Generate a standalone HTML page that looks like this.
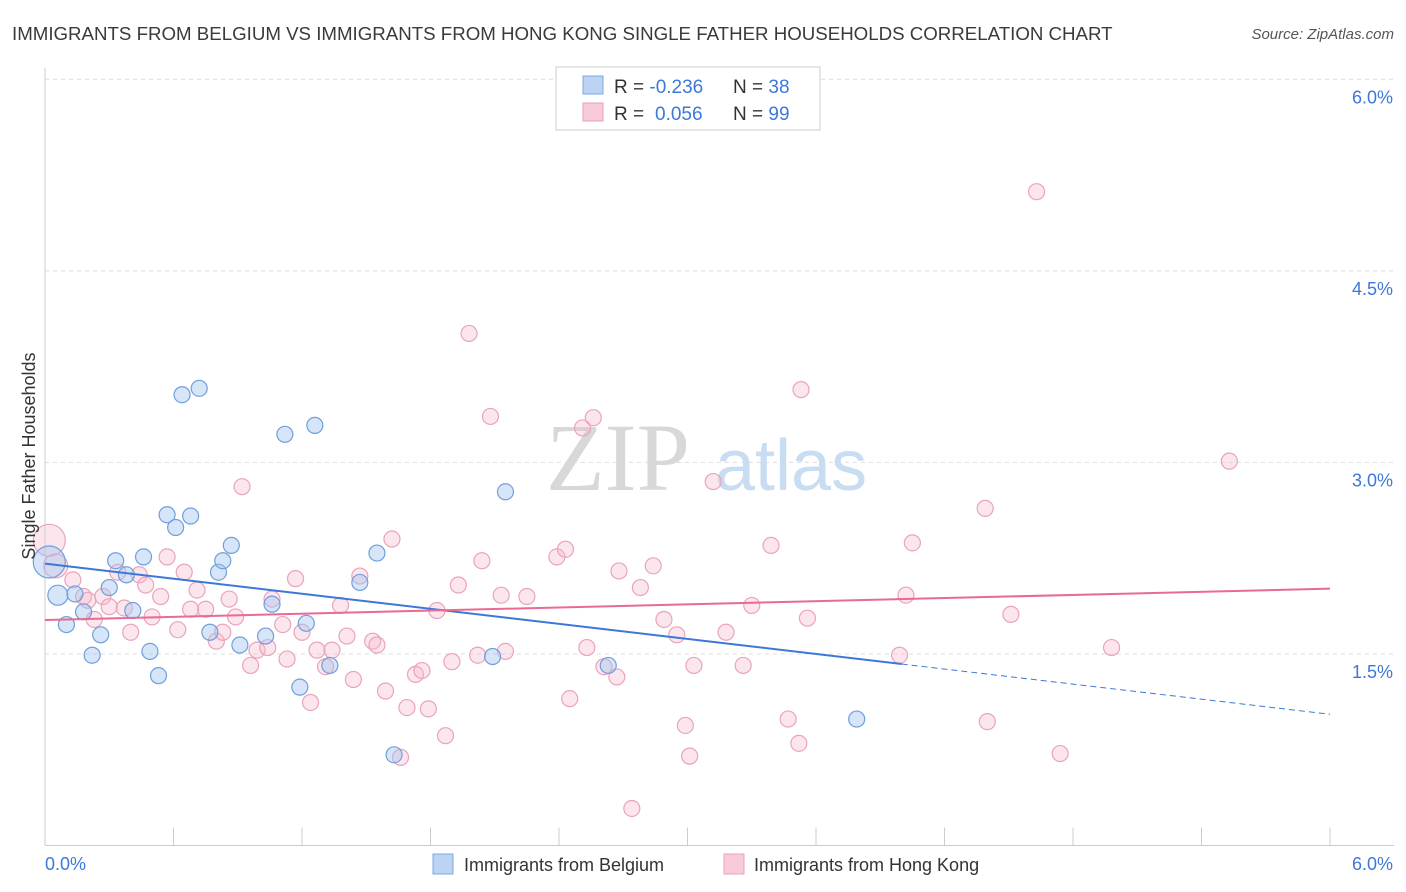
<!DOCTYPE html>
<html><head><meta charset="utf-8">
<style>
body{margin:0;background:#fff;font-family:"Liberation Sans",sans-serif;}
svg{display:block}
</style></head>
<body>
<svg id="chart" width="1406" height="892" xmlns="http://www.w3.org/2000/svg">
<text x="12" y="40" font-size="18.7" fill="#3a3a3a">IMMIGRANTS FROM BELGIUM VS IMMIGRANTS FROM HONG KONG SINGLE FATHER HOUSEHOLDS CORRELATION CHART</text>
<text x="1394" y="39" font-size="15" fill="#555" text-anchor="end" font-style="italic">Source: ZipAtlas.com</text>
<g id="grid"></g>
<g id="axes"></g>
<text x="690" y="490" font-size="96" fill="#d8d8d8" text-anchor="end" font-family="Liberation Serif,serif">ZIP</text>
<text x="715" y="490" font-size="72" fill="#c8dcf2">atlas</text>
<g id="marks"></g>
<text x="35" y="456" font-size="18" fill="#333" text-anchor="middle" transform="rotate(-90 35 456)">Single Father Households</text>
<g>
<rect x="556" y="67" width="264" height="63" fill="#fff" stroke="#ccc"/>
<rect x="583" y="76" width="20" height="18" fill="#bcd3f3" stroke="#7aa8e0"/>
<rect x="583" y="103" width="20" height="18" fill="#f8cbd9" stroke="#e8a0b8"/>
<text x="614" y="93" font-size="19" fill="#333">R = <tspan fill="#3c78d8">-0.236</tspan><tspan x="733">N = </tspan><tspan fill="#3c78d8">38</tspan></text>
<text x="614" y="120" font-size="19" fill="#333">R = <tspan fill="#3c78d8" x="655">0.056</tspan><tspan x="733">N = </tspan><tspan fill="#3c78d8">99</tspan></text>
</g>
<g>
<rect x="433" y="854" width="20" height="20" fill="#bcd3f3" stroke="#7aa8e0"/>
<text x="464" y="871" font-size="18" fill="#333">Immigrants from Belgium</text>
<rect x="724" y="854" width="20" height="20" fill="#f8cbd9" stroke="#e8a0b8"/>
<text x="754" y="871" font-size="18" fill="#333">Immigrants from Hong Kong</text>
</g>
</svg>
<script>
const xTicks=[0,0.6,1.2,1.8,2.4,3.0,3.6,4.2,4.8,5.4,6.0];
const yTicks=[1.5,3.0,4.5,6.0];
const yTickLabels=["1.5%","3.0%","4.5%","6.0%"];
const xLabels=["0.0%","6.0%"];
const belgiumX=[0.02,0.06,0.10,0.14,0.18,0.22,0.26,0.30,0.33,0.38,0.41,0.46,0.49,0.53,0.57,0.61,0.64,0.68,0.72,0.77,0.81,0.83,0.87,0.91,1.03,1.06,1.12,1.19,1.22,1.26,1.33,1.47,1.55,1.63,2.09,2.15,2.63,3.79];
const belgiumY=[2.22,1.96,1.73,1.97,1.83,1.49,1.65,2.02,2.23,2.12,1.84,2.26,1.52,1.33,2.59,2.49,3.53,2.58,3.58,1.67,2.14,2.23,2.35,1.57,1.64,1.89,3.22,1.24,1.74,3.29,1.41,2.06,2.29,0.71,1.48,2.77,1.41,0.99];
const hkX=[0.02,0.05,0.13,0.18,0.20,0.23,0.27,0.30,0.34,0.37,0.40,0.44,0.47,0.50,0.54,0.57,0.62,0.65,0.68,0.71,0.75,0.80,0.83,0.86,0.89,0.92,0.96,0.99,1.04,1.06,1.11,1.13,1.17,1.20,1.24,1.27,1.31,1.34,1.38,1.41,1.44,1.47,1.53,1.55,1.59,1.62,1.66,1.69,1.73,1.76,1.79,1.83,1.87,1.90,1.93,1.98,2.02,2.04,2.08,2.13,2.15,2.25,2.39,2.43,2.45,2.51,2.53,2.56,2.61,2.67,2.68,2.74,2.78,2.84,2.89,2.95,2.99,3.01,3.03,3.12,3.18,3.26,3.30,3.39,3.47,3.52,3.53,3.56,3.99,4.02,4.05,4.39,4.40,4.51,4.63,4.74,4.98,5.53];
const hkY=[2.39,2.19,2.08,1.95,1.92,1.77,1.95,1.87,2.14,1.86,1.67,2.12,2.04,1.79,1.95,2.26,1.69,2.14,1.85,2.00,1.85,1.60,1.67,1.93,1.79,2.81,1.41,1.53,1.55,1.93,1.73,1.46,2.09,1.67,1.12,1.53,1.40,1.53,1.88,1.64,1.30,2.11,1.60,1.57,1.21,2.40,0.69,1.08,1.34,1.37,1.07,1.84,0.86,1.44,2.04,4.01,1.49,2.23,3.36,1.96,1.52,1.95,2.26,2.32,1.15,3.27,1.55,3.35,1.40,1.32,2.15,0.29,2.02,2.19,1.77,1.65,0.94,0.70,1.41,2.85,1.67,1.41,1.88,2.35,0.99,0.80,3.57,1.78,1.49,1.96,2.37,2.64,0.97,1.81,5.12,0.72,1.55,3.01];
const sizesB={0:16,1:10};
const sizesH={0:16,1:12};
const ns="http://www.w3.org/2000/svg";
const X0=45,X1=1330,YBASE=845.5,PXY=127.7;
function sx(v){return X0+(v-xTicks[0])/(xTicks[xTicks.length-1]-xTicks[0])*(X1-X0);}
function sy(v){return YBASE-v*PXY;}
function mk(tag,attrs,parent){const e=document.createElementNS(ns,tag);for(const k in attrs)e.setAttribute(k,attrs[k]);parent.appendChild(e);return e;}
const grid=document.getElementById('grid'),axes=document.getElementById('axes'),marks=document.getElementById('marks');
yTicks.forEach((t,i)=>{
 const l=mk('line',{x1:X0,x2:1394,y1:sy(t),y2:sy(t),stroke:'#ddd','stroke-dasharray':'4,4'},grid);
 
 
 const tx=mk('text',{x:1393,y:sy(t)+24,'font-size':18,fill:'#3c78d8','text-anchor':'end'},axes);
 tx.textContent=yTickLabels[i];
 
 
});
const ax=mk('line',{x1:X0,x2:1394,y1:YBASE,y2:YBASE,stroke:'#ccc'},axes);


const ay=mk('line',{x1:X0,x2:X0,y1:68,y2:YBASE,stroke:'#ccc'},axes);


xTicks.forEach(t=>{
 const l=mk('line',{x1:sx(t),x2:sx(t),y1:YBASE-18,y2:YBASE,stroke:'#ccc'},axes);
 
 
});
[[0,'start',45],[6,'end',1393]].forEach((a,i)=>{
 const tx=mk('text',{x:a[2],y:870,'font-size':18,fill:'#3c78d8','text-anchor':a[1]},axes);
 tx.textContent=xLabels[i];
 
 
});
function fit(xs,ys){const n=xs.length;let mx=0,my=0;for(let i=0;i<n;i++){mx+=xs[i];my+=ys[i];}mx/=n;my/=n;let a=0,b=0;for(let i=0;i<n;i++){a+=(xs[i]-mx)*(ys[i]-my);b+=(xs[i]-mx)**2;}const s=a/b;return [s,my-s*mx];}
hkX.forEach((x,i)=>{
 const c=mk('circle',{cx:sx(x),cy:sy(hkY[i]),r:sizesH[i]||8,fill:'rgba(246,182,203,0.35)',stroke:'#eaa3bb','stroke-width':1.2},marks);
 
 
});
belgiumX.forEach((x,i)=>{
 const c=mk('circle',{cx:sx(x),cy:sy(belgiumY[i]),r:sizesB[i]||8,fill:'rgba(165,198,240,0.45)',stroke:'#6f9fdc','stroke-width':1.2},marks);
 
 
});
const [sb,ib]=fit(belgiumX,belgiumY);
const bl=mk('line',{x1:sx(0),y1:sy(ib),x2:sx(4.0),y2:sy(ib+sb*4.0),stroke:'#3b78d8','stroke-width':2},marks);


const bd=mk('line',{x1:sx(4.0),y1:sy(ib+sb*4.0),x2:sx(6),y2:sy(ib+sb*6),stroke:'#3b78d8','stroke-width':1,'stroke-dasharray':'6,4'},marks);


const [sh,ih]=fit(hkX,hkY);
const hl=mk('line',{x1:sx(0),y1:sy(ih),x2:sx(6),y2:sy(ih+sh*6),stroke:'#e86a95','stroke-width':2},marks);


</script>
</body></html>
